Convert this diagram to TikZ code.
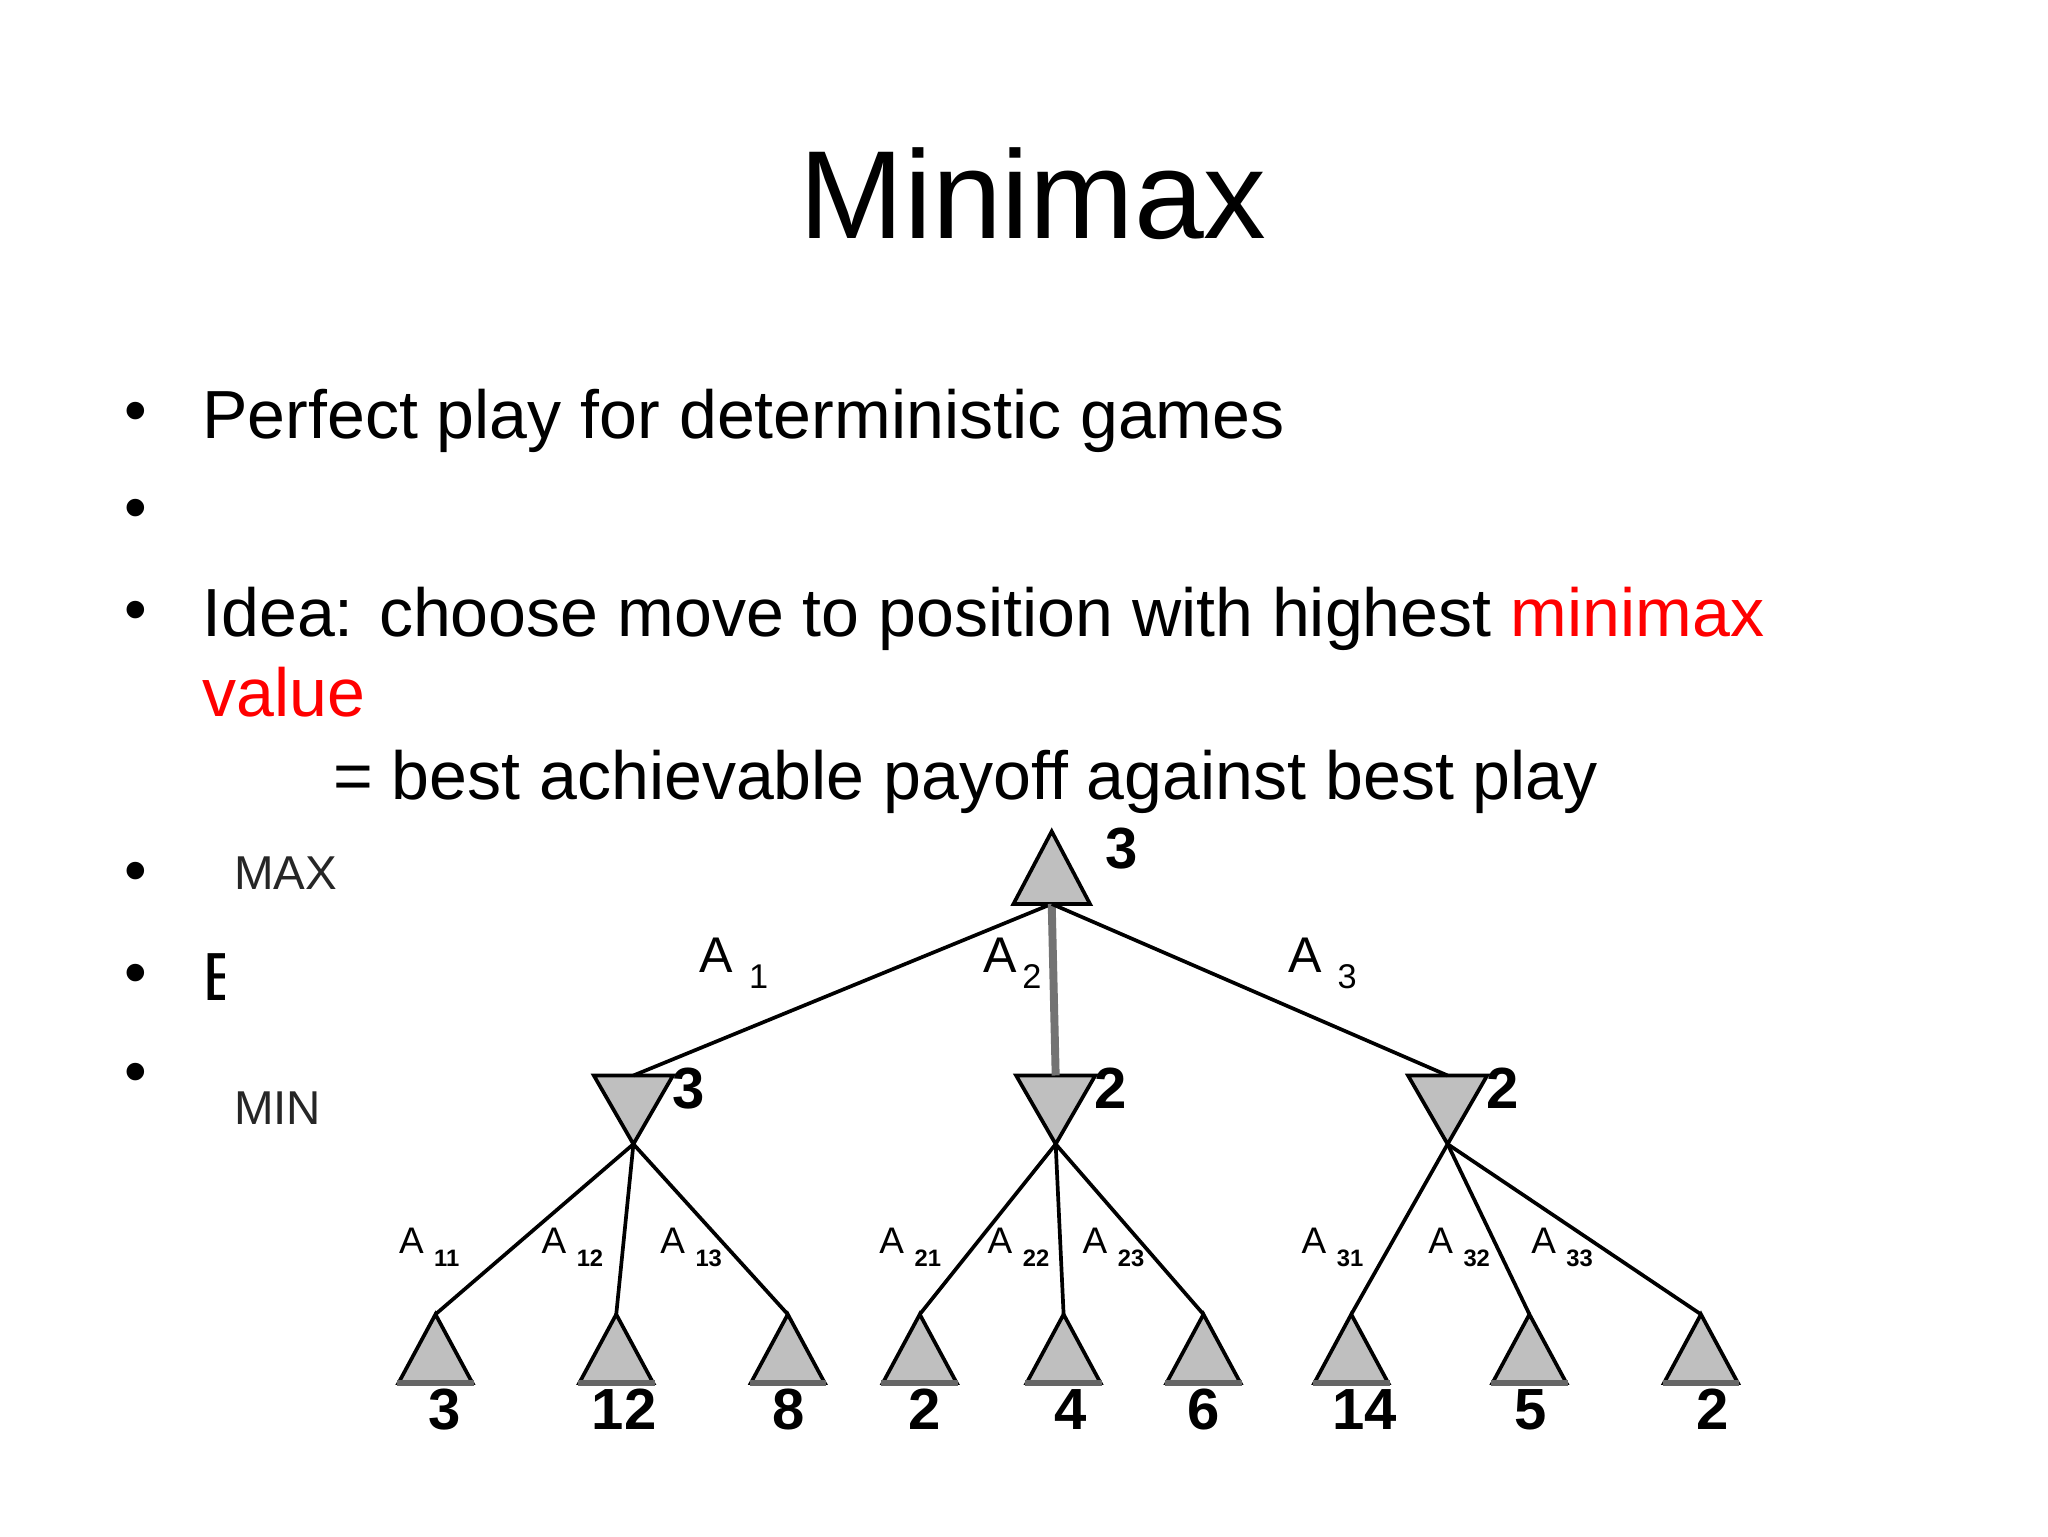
\documentclass[tikz,border=0pt]{standalone}
\usepackage{fontspec}
\setmainfont{Liberation Sans}
\begin{document}
\begin{tikzpicture}[x=0.5pt,y=-0.5pt,
  body/.style={font=\fontsize{25.8}{30}\selectfont,anchor=base west,inner sep=0},
  bul/.style={font=\fontsize{24.5}{29}\selectfont,anchor=center,inner sep=0},
  small/.style={font=\fontsize{18}{21}\selectfont,anchor=base west,inner sep=0,text=black!85},
  num/.style={font=\bfseries\fontsize{22}{25}\selectfont,anchor=base,inner sep=0},
  al/.style={font=\fontsize{19}{22}\selectfont,anchor=base west,inner sep=0},
  asl/.style={font=\fontsize{11}{13}\selectfont,anchor=base west,inner sep=0},
  edge/.style={line width=1.4pt,black},
  tri/.style={fill=black!25,draw=black,line width=1.4pt,line join=miter}]
\useasboundingbox (0,0) rectangle (1552,1164);
\fill[white] (0,0) rectangle (1552,1164);
\node[font=\fontsize{47.5}{56}\selectfont,anchor=base,inner sep=0] (title) at (783,181) {Minimax};
\node[bul] (b1) at (103,316) {•};
\node[body] (t1) at (153,332) {Perfect play for deterministic games};
\node[bul] (b2) at (103,390) {•};
\node[bul] (b3) at (103,467) {•};
\node[body] (t3) at (153,482) {Idea: choose move to position with highest \textcolor{red}{minimax}};
\node[body,text=red] (t3b) at (153,543) {value};
\node[body] (t3c) at (252,606) {= best achievable payoff against best play};
\node[bul] (b4) at (103,665) {•};
\node[small] (max) at (177,674) {MAX};
\node[bul] (b5) at (103,742) {•};
\begin{scope}
\clip (150,700) rectangle (170,780);
\node[body] (e) at (153,758) {E};
\end{scope}
\node[bul] (b6) at (103,817) {•};
\node[small] (min) at (177,852) {MIN};
% root
\coordinate (r) at (797,630);
\coordinate (rb) at (797,685);
\draw[tri] (r) -- (826,685) -- (768,685) -- cycle;
\node[num] (rv) at (850,658) {3};
% min nodes
\foreach \n/\x/\v in {m1/480/3,m2/800/2,m3/1097/2}{
  \coordinate (\n) at (\x,815);
  \coordinate (\n a) at (\x,867);
  \draw[tri] (\x-30,815) -- (\x+30,815) -- (\x,867) -- cycle;
  \node[num] (\n v) at (\x+42,840) {\v};
}
\draw[edge] (rb) -- (m1);
\draw[line width=3pt,black!55] (rb) -- (m2);
\draw[edge] (rb) -- (m3);
% leaves
\foreach \n/\x/\lx/\v/\p in {l11/330/337/3/m1,l12/467/473/12/m1,l13/597/598/8/m1,
  l21/697/701/2/m2,l22/806/811/4/m2,l23/912/912/6/m2,
  l31/1024/1034/14/m3,l32/1159/1160/5/m3,l33/1289/1298/2/m3}{
  \coordinate (\n) at (\x,996);
  \draw[edge] (\p a) -- (\n);
  \draw[tri] (\n) -- (\x+28,1048) -- (\x-28,1048) -- cycle;
  \draw[line width=2pt,black!60] (\x-29,1048) -- (\x+29,1048);
  \node[num] (\n v) at (\lx,1083) {\v};
}
\node[al] (a1) at (530,737) {A\hspace{6pt}\raisebox{-6pt}{\fontsize{13}{13}\selectfont 1}};
\node[al] (a2) at (745,737) {A\hspace{2pt}\raisebox{-6pt}{\fontsize{13}{13}\selectfont 2}};
\node[al] (a3) at (976,737) {A\hspace{6pt}\raisebox{-6pt}{\fontsize{13}{13}\selectfont 3}};
\foreach \n/\x/\s in {a11/302/11,a12/410/12,a13/500/13,a21/666/21,a22/748/22,a23/820/23,a31/986/31,a32/1082/32,a33/1160/33}{
  \node[asl,font=\fontsize{14}{16}\selectfont] (\n) at (\x,950) {A\hspace{4pt}\raisebox{-5pt}{\fontsize{9}{9}\selectfont\bfseries \s}};
}
\end{tikzpicture}
\end{document}
